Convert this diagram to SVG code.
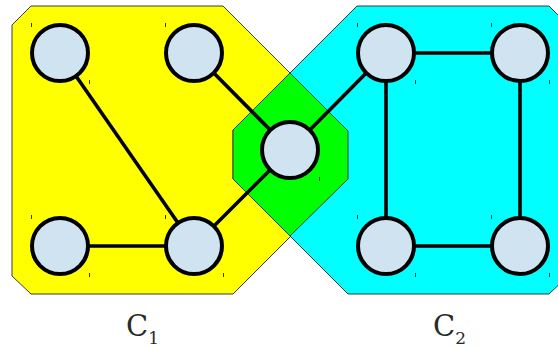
<svg xmlns="http://www.w3.org/2000/svg" width="558" height="347" viewBox="0 0 558 347">
<style>
.region{stroke:#3a3a3a;stroke-width:1}
.node{fill:#cfe3f1;stroke:#000;stroke-width:4}
.edge{stroke:#000;stroke-width:3.6;fill:none}
.tick{stroke:#333;stroke-width:1}
.lbl{font-family:"DejaVu Serif",serif;fill:#2a2a2a}
</style>
<g id="regions">
<polygon id="C1" class="region" fill="#ffff00" points="12,25 31,6 223,6 348,131 348,179 233,294 31,294 12,276"/>
<polygon id="C2" class="region" fill="#00ffff" points="233,130 357,6 549,6 568,25 568,276 549,294 348,294 233,179"/>
<polygon id="C12" class="region" fill="#00ff00" points="290,73 348,131 348,179 290,236 233,179 233,130"/>
</g>
<g id="connectors">
<line class="edge" x1="60" y1="53" x2="194" y2="246"/>
<line class="edge" x1="194" y1="53" x2="290" y2="150"/>
<line class="edge" x1="290" y1="150" x2="194" y2="246"/>
<line class="edge" x1="60" y1="246" x2="194" y2="246"/>
<line class="edge" x1="290" y1="150" x2="386" y2="53"/>
<line class="edge" x1="386" y1="53" x2="520" y2="53"/>
<line class="edge" x1="386" y1="53" x2="386" y2="246"/>
<line class="edge" x1="520" y1="53" x2="520" y2="246"/>
<line class="edge" x1="386" y1="246" x2="520" y2="246"/>
</g>
<g id="n1"><circle class="node" cx="60" cy="53" r="28"/><line class="tick" x1="31.5" y1="23" x2="31.5" y2="27"/><line class="tick" x1="89.5" y1="80" x2="89.5" y2="84"/></g>
<g id="n2"><circle class="node" cx="194" cy="53" r="28"/><line class="tick" x1="165.5" y1="23" x2="165.5" y2="27"/></g>
<g id="n3"><circle class="node" cx="290" cy="150" r="28"/><line class="tick" x1="319.5" y1="177" x2="319.5" y2="181"/></g>
<g id="n4"><circle class="node" cx="60" cy="246" r="28"/><line class="tick" x1="31.5" y1="215" x2="31.5" y2="219"/><line class="tick" x1="89.5" y1="273" x2="89.5" y2="277"/></g>
<g id="n5"><circle class="node" cx="194" cy="246" r="28"/><line class="tick" x1="165.5" y1="215" x2="165.5" y2="219"/><line class="tick" x1="223.5" y1="273" x2="223.5" y2="277"/></g>
<g id="n6"><circle class="node" cx="386" cy="53" r="28"/><line class="tick" x1="357.5" y1="23" x2="357.5" y2="27"/><line class="tick" x1="415.5" y1="80" x2="415.5" y2="84"/></g>
<g id="n7"><circle class="node" cx="520" cy="53" r="28"/><line class="tick" x1="491.5" y1="23" x2="491.5" y2="27"/><line class="tick" x1="549.5" y1="80" x2="549.5" y2="84"/></g>
<g id="n8"><circle class="node" cx="386" cy="246" r="28"/><line class="tick" x1="357.5" y1="215" x2="357.5" y2="219"/><line class="tick" x1="415.5" y1="273" x2="415.5" y2="277"/></g>
<g id="n9"><circle class="node" cx="520" cy="246" r="28"/><line class="tick" x1="491.5" y1="215" x2="491.5" y2="219"/><line class="tick" x1="549.5" y1="273" x2="549.5" y2="277"/></g>
<g id="labels">
<text class="lbl" x="126" y="336" font-size="29">C<tspan font-size="17" dy="8">1</tspan></text>
<text class="lbl" x="433" y="336" font-size="29">C<tspan font-size="17" dy="8">2</tspan></text>
</g>
</svg>
